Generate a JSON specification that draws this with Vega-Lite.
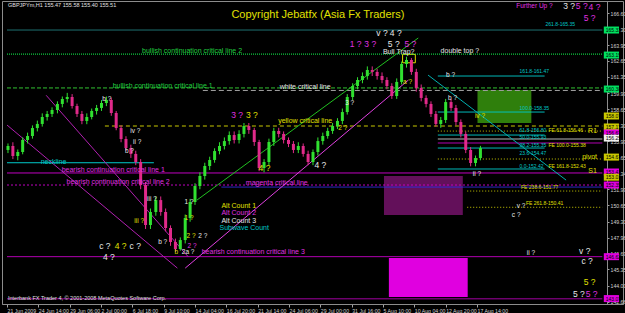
{
  "$schema": "https://vega.github.io/schema/vega-lite/v6.json",
  "width": 621,
  "height": 303,
  "autosize": {"type": "none"},
  "padding": {"left": 2, "top": 1, "right": 2, "bottom": 9},
  "background": "#000000",
  "config": {"view": {"stroke": "#8c8c8c", "strokeWidth": 1}, "font": "Liberation Sans", "text": {"font": "Liberation Sans"}},
  "resolve": {"scale": {"color": "independent", "strokeDash": "independent"}},
  "datasets": {
    "candles": [
      {"i":2,"o":155.26,"c":155.59,"h":155.8,"l":155.0},
      {"i":12,"o":155.59,"c":154.76,"h":155.9,"l":154.5},
      {"i":22,"o":154.76,"c":155.09,"h":155.3,"l":154.4},
      {"i":32,"o":155.09,"c":156.09,"h":156.3,"l":154.9},
      {"i":42,"o":156.09,"c":156.42,"h":156.7,"l":155.8},
      {"i":52,"o":156.42,"c":157.08,"h":157.3,"l":156.2},
      {"i":62,"o":157.08,"c":157.42,"h":157.7,"l":156.8},
      {"i":72,"o":157.42,"c":158.0,"h":158.3,"l":157.2},
      {"i":82,"o":158.0,"c":158.25,"h":158.5,"l":157.7},
      {"i":92,"o":158.25,"c":158.58,"h":158.8,"l":158.0},
      {"i":103,"o":158.58,"c":159.08,"h":159.3,"l":158.3},
      {"i":113,"o":159.08,"c":159.49,"h":159.7,"l":158.8},
      {"i":123,"o":159.49,"c":159.66,"h":160.0,"l":159.2},
      {"i":133,"o":159.66,"c":158.91,"h":159.9,"l":158.7},
      {"i":143,"o":158.91,"c":158.25,"h":159.1,"l":158.0},
      {"i":153,"o":158.25,"c":157.67,"h":158.5,"l":157.4},
      {"i":163,"o":157.67,"c":158.0,"h":158.3,"l":157.4},
      {"i":173,"o":158.0,"c":158.5,"h":158.7,"l":157.8},
      {"i":183,"o":158.5,"c":158.75,"h":159.0,"l":158.2},
      {"i":193,"o":158.75,"c":159.16,"h":159.4,"l":158.5},
      {"i":203,"o":159.16,"c":159.41,"h":159.7,"l":158.9},
      {"i":213,"o":159.41,"c":158.33,"h":159.6,"l":158.1},
      {"i":223,"o":158.33,"c":157.08,"h":158.5,"l":156.9},
      {"i":233,"o":157.08,"c":156.17,"h":157.3,"l":155.9},
      {"i":243,"o":156.17,"c":155.42,"h":156.4,"l":155.2},
      {"i":253,"o":155.42,"c":154.93,"h":155.7,"l":154.6},
      {"i":263,"o":154.93,"c":154.26,"h":155.2,"l":154.0},
      {"i":273,"o":154.26,"c":152.35,"h":154.5,"l":152.0},
      {"i":283,"o":152.35,"c":149.03,"h":152.6,"l":148.7},
      {"i":293,"o":149.03,"c":150.11,"h":150.4,"l":148.7},
      {"i":304,"o":150.11,"c":151.1,"h":151.4,"l":149.8},
      {"i":314,"o":151.1,"c":150.11,"h":151.4,"l":149.8},
      {"i":324,"o":150.11,"c":148.78,"h":150.4,"l":148.5},
      {"i":334,"o":148.78,"c":147.62,"h":149.0,"l":147.3},
      {"i":344,"o":147.62,"c":147.03,"h":147.9,"l":146.8},
      {"i":354,"o":147.03,"c":147.78,"h":148.0,"l":146.9},
      {"i":364,"o":147.78,"c":149.61,"h":149.9,"l":147.5},
      {"i":374,"o":149.61,"c":150.94,"h":151.2,"l":149.3},
      {"i":384,"o":150.94,"c":152.27,"h":152.5,"l":150.7},
      {"i":394,"o":152.27,"c":153.1,"h":153.4,"l":152.0},
      {"i":404,"o":153.1,"c":153.93,"h":154.2,"l":152.8},
      {"i":414,"o":153.93,"c":154.43,"h":154.7,"l":153.6},
      {"i":424,"o":154.43,"c":155.17,"h":155.4,"l":154.2},
      {"i":434,"o":155.17,"c":155.59,"h":155.9,"l":154.9},
      {"i":444,"o":155.59,"c":156.0,"h":156.3,"l":155.3},
      {"i":454,"o":156.0,"c":156.5,"h":156.8,"l":155.7},
      {"i":464,"o":156.5,"c":156.09,"h":156.8,"l":155.8},
      {"i":474,"o":156.09,"c":156.59,"h":156.9,"l":155.8},
      {"i":484,"o":156.59,"c":157.25,"h":157.5,"l":156.3},
      {"i":494,"o":157.25,"c":156.92,"h":157.5,"l":156.6},
      {"i":505,"o":156.92,"c":155.92,"h":157.1,"l":155.6},
      {"i":515,"o":155.92,"c":153.76,"h":156.1,"l":153.5},
      {"i":525,"o":153.76,"c":154.26,"h":154.5,"l":153.4},
      {"i":535,"o":154.26,"c":155.92,"h":156.2,"l":154.0},
      {"i":545,"o":155.92,"c":156.84,"h":157.1,"l":155.6},
      {"i":555,"o":156.84,"c":156.59,"h":157.1,"l":156.3},
      {"i":565,"o":156.59,"c":156.09,"h":156.8,"l":155.8},
      {"i":575,"o":156.09,"c":155.76,"h":156.3,"l":155.5},
      {"i":585,"o":155.76,"c":155.26,"h":156.0,"l":155.0},
      {"i":595,"o":155.26,"c":155.59,"h":155.9,"l":155.0},
      {"i":605,"o":155.59,"c":154.93,"h":155.8,"l":154.7},
      {"i":615,"o":154.93,"c":154.26,"h":155.2,"l":154.0},
      {"i":625,"o":154.26,"c":155.09,"h":155.3,"l":154.0},
      {"i":635,"o":155.09,"c":156.0,"h":156.3,"l":154.8},
      {"i":645,"o":156.0,"c":156.42,"h":156.7,"l":155.7},
      {"i":655,"o":156.42,"c":156.84,"h":157.1,"l":156.2},
      {"i":665,"o":156.84,"c":157.25,"h":157.5,"l":156.6},
      {"i":675,"o":157.25,"c":157.67,"h":157.9,"l":157.0},
      {"i":685,"o":157.67,"c":158.41,"h":158.7,"l":157.4},
      {"i":695,"o":158.41,"c":159.66,"h":159.9,"l":158.2},
      {"i":706,"o":159.66,"c":160.57,"h":160.8,"l":159.4},
      {"i":716,"o":160.57,"c":161.07,"h":161.3,"l":160.3},
      {"i":726,"o":161.07,"c":161.4,"h":161.7,"l":160.8},
      {"i":736,"o":161.4,"c":161.9,"h":162.2,"l":161.1},
      {"i":746,"o":161.9,"c":161.74,"h":162.2,"l":161.4},
      {"i":756,"o":161.74,"c":161.4,"h":162.0,"l":161.1},
      {"i":766,"o":161.4,"c":161.07,"h":161.7,"l":160.8},
      {"i":776,"o":161.07,"c":160.57,"h":161.3,"l":160.3},
      {"i":786,"o":160.57,"c":159.74,"h":160.8,"l":159.5},
      {"i":796,"o":159.74,"c":160.91,"h":161.2,"l":159.5},
      {"i":806,"o":160.91,"c":162.4,"h":162.6,"l":160.7},
      {"i":816,"o":162.4,"c":162.73,"h":163.0,"l":162.1},
      {"i":826,"o":162.73,"c":161.74,"h":162.9,"l":161.5},
      {"i":836,"o":161.74,"c":160.41,"h":162.0,"l":160.1},
      {"i":846,"o":160.41,"c":159.58,"h":160.7,"l":159.3},
      {"i":856,"o":159.58,"c":159.08,"h":159.8,"l":158.8},
      {"i":866,"o":159.08,"c":158.25,"h":159.3,"l":158.0},
      {"i":876,"o":158.25,"c":157.42,"h":158.5,"l":157.2},
      {"i":886,"o":157.42,"c":157.75,"h":158.0,"l":157.1},
      {"i":896,"o":157.75,"c":159.24,"h":159.5,"l":157.5},
      {"i":907,"o":159.24,"c":158.75,"h":159.5,"l":158.5},
      {"i":917,"o":158.75,"c":157.58,"h":159.0,"l":157.3},
      {"i":927,"o":157.58,"c":156.59,"h":157.8,"l":156.3},
      {"i":937,"o":156.59,"c":155.26,"h":156.8,"l":155.0},
      {"i":947,"o":155.26,"c":154.18,"h":155.5,"l":153.9},
      {"i":957,"o":154.18,"c":154.59,"h":154.8,"l":153.9},
      {"i":967,"o":154.59,"c":155.42,"h":155.6,"l":154.4}
    ],
    "zones": [
      {"zone":"target up","i":961,"i2":1071,"p":160.24,"p2":157.5},
      {"zone":"target down 1","i":770,"i2":931,"p":153.09,"p2":149.86},
      {"zone":"target down 2","i":780,"i2":941,"p":146.28,"p2":143.05}
    ],
    "traps": [
      {"zone":"bull trap","i":808,"i2":834,"p":163.2,"p2":162.5}
    ],
    "levels": [
      {"line":"teal","i":0,"i2":1216,"p":165.22},
      {"line":"bullish 2","i":0,"i2":1216,"p":163.22},
      {"line":"bullish 1","i":0,"i2":1216,"p":160.41},
      {"line":"white","i":400,"i2":1216,"p":160.2},
      {"line":"yellow","i":200,"i2":1216,"p":157.25},
      {"line":"pivot","i":880,"i2":1216,"p":156.83},
      {"line":"fib","i":880,"i2":1098,"p":161.4},
      {"line":"fib","i":880,"i2":1098,"p":158.41},
      {"line":"fib","i":880,"i2":1098,"p":156.5},
      {"line":"fib","i":880,"i2":1098,"p":155.42},
      {"line":"fib","i":880,"i2":1098,"p":153.68},
      {"line":"res","i":880,"i2":1216,"p":155.84},
      {"line":"white solid","i":880,"i2":1216,"p":156.17},
      {"line":"pivot","i":880,"i2":1216,"p":154.51},
      {"line":"res","i":0,"i2":1216,"p":153.35},
      {"line":"bearish 2","i":0,"i2":1216,"p":152.35},
      {"line":"magenta critical","i":438,"i2":1216,"p":152.18},
      {"line":"fe","i":940,"i2":1216,"p":151.85},
      {"line":"fe","i":940,"i2":1216,"p":150.5},
      {"line":"neckline","i":0,"i2":300,"p":154.2},
      {"line":"bearish 3","i":0,"i2":1216,"p":146.4},
      {"line":"bottom","i":0,"i2":1216,"p":142.9}
    ],
    "trends": [
      {"line":"green","i":388,"p":151.1,"i2":840,"p2":164.56},
      {"line":"pink","i":364,"p":145.45,"i2":820,"p2":161.07},
      {"line":"magenta","i":0,"p":157.33,"i2":348,"p2":145.45},
      {"line":"magenta","i":80,"p":159.8,"i2":370,"p2":146.4},
      {"line":"cyan","i":860,"p":161.48,"i2":1142,"p2":152.76}
    ],
    "notes": [
      {"t":"bullish continuation critical line 2","kind":"green","i":378,"p":163.48},
      {"t":"bullish continuation critical line 1","kind":"green","i":318,"p":160.57},
      {"t":"white critical line","kind":"white","i":609,"p":160.49},
      {"t":"yellow critical line","kind":"yellow","i":609,"p":157.66},
      {"t":"neckline","kind":"cyan","i":95,"p":154.25},
      {"t":"bearish continuation critical line 1","kind":"magenta","i":217,"p":153.59},
      {"t":"bearish continuation critical line 2","kind":"magenta","i":227,"p":152.6},
      {"t":"magenta critical line","kind":"magenta","i":551,"p":152.55},
      {"t":"bearish continuation critical line 3","kind":"magenta","i":503,"p":146.78},
      {"t":"Bull Trap?","kind":"white","i":800,"p":163.4},
      {"t":"double top ?","kind":"white","i":925,"p":163.48},
      {"t":"R1","kind":"yellow","i":1196,"p":156.83},
      {"t":"pivot","kind":"yellow","i":1190,"p":154.67},
      {"t":"S1","kind":"yellow","i":1196,"p":153.51}
    ],
    "legend": [
      {"t":"Alt Count 1","kind":"yellow","i":438,"p":150.6},
      {"t":"Alt Count 2","kind":"magenta","i":438,"p":150.02},
      {"t":"Alt Count 3","kind":"white","i":438,"p":149.36},
      {"t":"Subwave Count","kind":"cyan","i":434,"p":148.78}
    ],
    "headnotes": [
      {"t":"Further Up ?","kind":"magenta","i":1040,"p":167.22}
    ],
    "fibs": [
      {"t":"161.8-161.47","kind":"cyan","i":1047,"p":161.57},
      {"t":"100.0-158.35","kind":"cyan","i":1047,"p":158.5},
      {"t":"61.8-156.80","kind":"cyan","i":1047,"p":156.67},
      {"t":"FE 61.8-156.46","kind":"yellow","i":1106,"p":156.67},
      {"t":"50.0-155.93","kind":"cyan","i":1047,"p":156.08},
      {"t":"38.2-155.35","kind":"cyan","i":1047,"p":155.42},
      {"t":"FE 100.0-155.38","kind":"yellow","i":1106,"p":155.42},
      {"t":"23.6-154.47","kind":"cyan","i":1047,"p":154.76},
      {"t":"0.0-152.42","kind":"cyan","i":1047,"p":153.68},
      {"t":"FE 161.8-152.43","kind":"yellow","i":1106,"p":153.68},
      {"t":"FE 238.6-151.77","kind":"yellow","i":1050,"p":151.93},
      {"t":"FE 261.8-150.41","kind":"yellow","i":1060,"p":150.58},
      {"t":"261.8-165.35","kind":"cyan","i":1100,"p":165.45}
    ],
    "waves": [
      {"t":"v ?","kind":"white","i":766,"p":164.95},
      {"t":"4 ?","kind":"white","i":794,"p":165.0},
      {"t":"1 ?","kind":"magenta","i":712,"p":164.05},
      {"t":"3 ?","kind":"magenta","i":742,"p":164.05},
      {"t":"5 ?","kind":"white","i":790,"p":164.05},
      {"t":"5 ?","kind":"magenta","i":824,"p":164.05},
      {"t":"3 ?","kind":"magenta","i":470,"p":158.2},
      {"t":"3 ?","kind":"yellow","i":500,"p":158.2},
      {"t":"4 ?","kind":"yellow","i":526,"p":153.75},
      {"t":"4 ?","kind":"white","i":640,"p":154.0},
      {"t":"c ?","kind":"white","i":200,"p":147.3},
      {"t":"4 ?","kind":"white","i":208,"p":146.35},
      {"t":"4 ?","kind":"yellow","i":232,"p":147.3},
      {"t":"c ?","kind":"white","i":262,"p":147.3},
      {"t":"5 ?","kind":"yellow","i":1190,"p":144.3},
      {"t":"5 ?","kind":"white","i":1168,"p":143.3},
      {"t":"5 ?","kind":"magenta","i":1194,"p":143.3},
      {"t":"v ?","kind":"white","i":1180,"p":146.9},
      {"t":"c ?","kind":"white","i":1185,"p":146.0},
      {"t":"3 ?","kind":"white","i":1148,"p":167.2},
      {"t":"5 ?","kind":"magenta","i":1174,"p":167.2},
      {"t":"4 ?","kind":"magenta","i":1200,"p":167.15},
      {"t":"5 ?","kind":"magenta","i":1190,"p":166.2}
    ],
    "subwaves": [
      {"t":"b ?","kind":"white","i":204,"p":159.5},
      {"t":"iv ?","kind":"white","i":262,"p":156.8},
      {"t":"ii ?","kind":"white","i":266,"p":155.9},
      {"t":"b ?","kind":"white","i":250,"p":155.2},
      {"t":"iii ?","kind":"white","i":296,"p":151.2},
      {"t":"iii ?","kind":"yellow","i":270,"p":149.4},
      {"t":"b ?","kind":"white","i":318,"p":147.6},
      {"t":"1 ?","kind":"white","i":372,"p":150.9},
      {"t":"1 ?","kind":"yellow","i":372,"p":149.6},
      {"t":"2 ?","kind":"yellow","i":376,"p":148.1},
      {"t":"2 ?","kind":"white","i":400,"p":148.1},
      {"t":"2 ?","kind":"magenta","i":378,"p":147.3},
      {"t":"b","kind":"yellow","i":346,"p":146.8},
      {"t":"2a ?","kind":"white","i":370,"p":146.8},
      {"t":"2 ?","kind":"yellow","i":686,"p":157.1},
      {"t":"3 ?","kind":"white","i":700,"p":159.2},
      {"t":"a ?","kind":"yellow","i":818,"p":160.9},
      {"t":"b ?","kind":"white","i":906,"p":161.5},
      {"t":"b ?","kind":"white","i":910,"p":159.6},
      {"t":"iv ?","kind":"yellow","i":966,"p":158.1},
      {"t":"ii ?","kind":"white","i":960,"p":153.3},
      {"t":"v ?","kind":"white","i":1050,"p":150.6},
      {"t":"c ?","kind":"white","i":1040,"p":149.9},
      {"t":"ii ?","kind":"white","i":1070,"p":146.7}
    ],
    "marks": [
      {"t":"GBPJPYm,H1  155.47 155.58 155.40 155.51","i":2,"p":167.3},
      {"t":"Interbank FX Trader 4, © 2001-2008 MetaQuotes Software Corp.","i":2,"p":142.96}
    ],
    "title": [
      {"t":"Copyright Jebatfx (Asia Fx Traders)","i":635,"p":166.47}
    ],
    "prices": [
      {"t":"165.33","kind":"green","i":1219,"i2":1250,"p":165.22},
      {"t":"163.19","kind":"green","i":1219,"i2":1250,"p":163.14},
      {"t":"160.38","kind":"green","i":1219,"i2":1250,"p":160.32},
      {"t":"158.07","kind":"yellow","i":1219,"i2":1250,"p":158.08},
      {"t":"157.17","kind":"yellow","i":1219,"i2":1250,"p":157.17},
      {"t":"156.67","kind":"magenta","i":1219,"i2":1250,"p":156.67},
      {"t":"156.25","kind":"white","i":1219,"i2":1250,"p":156.25},
      {"t":"154.67","kind":"yellow","i":1219,"i2":1250,"p":154.67},
      {"t":"153.43","kind":"magenta","i":1219,"i2":1250,"p":153.43},
      {"t":"153.01","kind":"yellow","i":1219,"i2":1250,"p":153.0},
      {"t":"152.35","kind":"magenta","i":1219,"i2":1250,"p":152.35},
      {"t":"146.62","kind":"magenta","i":1219,"i2":1250,"p":146.4},
      {"t":"143.07","kind":"magenta","i":1219,"i2":1250,"p":142.92}
    ]
  },
  "encoding": {
    "x": {"field":"i","type":"quantitative","scale":{"domain":[0,1248],"nice":false,"zero":false},
      "axis":{"title":null,"grid":false,"values":[0,64,128,192,256,320,384,448,512,576,640,704,768,832,896,960],
        "labelExpr":"['21 Jun 2009','24 Jun 14:00','29 Jun 06:00','2 Jul 00:00','6 Jul 18:00','9 Jul 10:00','14 Jul 04:00','16 Jul 20:00','21 Jul 14:00','24 Jul 06:00','29 Jul 00:00','31 Jul 16:00','5 Aug 10:00','10 Aug 04:00','12 Aug 20:00','17 Aug 14:00'][round(datum.value/64)]",
        "labelAlign":"left","labelColor":"#d0d0d0","labelFontSize":5.2,"labelPadding":1,"tickColor":"#a0a0a0","tickSize":3,"domainColor":"#8c8c8c","labelFlush":false,"labelOverlap":false}},
    "y": {"field":"p","type":"quantitative","scale":{"domain":[142.47,167.63],"nice":false,"zero":false},
      "axis":{"orient":"right","offset":-16,"title":null,"grid":false,"values":[142.66,144.0,145.35,146.69,147.96,149.3,150.65,151.99,153.34,154.65,155.99,157.3,158.65,159.99,161.35,162.65,163.95,165.3,166.6],
        "format":".2f","labelColor":"#d0d0d0","labelFontSize":5.2,"labelPadding":1,"tickColor":"#a0a0a0","tickSize":2,"domainColor":"#8c8c8c","labelOverlap":false}}
  },
  "layer": [
    {"data":{"name":"zones"},"mark":{"type":"rect"},
      "encoding":{"x2":{"field":"i2"},"y2":{"field":"p2"},
        "color":{"field":"zone","type":"nominal","legend":null,"scale":{"domain":["target up","target down 1","target down 2"],"range":["#2f7f0c","#63105a","#e000e0"]}}}},
    {"data":{"name":"traps"},"mark":{"type":"rect","fill":null,"filled":false,"stroke":"#e0e000","strokeWidth":1},
      "encoding":{"x2":{"field":"i2"},"y2":{"field":"p2"}}},
    {"data":{"name":"levels"},"mark":{"type":"rule","strokeWidth":1},
      "encoding":{"x2":{"field":"i2"},
        "color":{"field":"line","type":"nominal","legend":null,"scale":{"domain":["teal","bullish 2","bullish 1","white","yellow","pivot","fib","res","white solid","bearish 2","magenta critical","fe","neckline","bearish 3","bottom"],
          "range":["#1e7070","#10ff50","#30c030","#a0a0a0","#c8c800","#c8c800","#00c8c8","#c000c0","#c8c8c8","#c000c0","#3030e0","#c8c800","#00c8c8","#b000b0","#a000a0"]}},
        "strokeDash":{"field":"line","type":"nominal","legend":null,"scale":{"domain":["teal","bullish 2","bullish 1","white","yellow","pivot","fib","res","white solid","bearish 2","magenta critical","fe","neckline","bearish 3","bottom"],
          "range":[[1,0],[1,1],[4,2],[5,3],[4,3],[1,2],[1,0],[1,0],[1,0],[2,2],[1,0],[1,2],[1,0],[1,0],[1,0]]}}}},
    {"data":{"name":"trends"},"mark":{"type":"rule","strokeWidth":1},
      "encoding":{"x2":{"field":"i2"},"y2":{"field":"p2"},
        "color":{"field":"line","type":"nominal","legend":null,"scale":{"domain":["green","pink","magenta","cyan"],"range":["#20c020","#e040e0","#b020b0","#00b0b0"]}}}},
    {"data":{"name":"candles"},"mark":{"type":"rule","strokeWidth":1},
      "encoding":{"y":{"field":"l","type":"quantitative","scale":{"domain":[142.47,167.63],"nice":false,"zero":false}},"y2":{"field":"h"},
        "color":{"condition":{"test":"datum.c >= datum.o","value":"#30e030"},"value":"#e02a8a"}}},
    {"data":{"name":"candles"},"mark":{"type":"bar","size":3},
      "encoding":{"y":{"field":"o","type":"quantitative","scale":{"domain":[142.47,167.63],"nice":false,"zero":false}},"y2":{"field":"c"},
        "color":{"condition":{"test":"datum.c >= datum.o","value":"#30e030"},"value":"#e02a8a"}}},
    {"data":{"name":"notes"},"mark":{"type":"text","fontSize":7,"align":"center","baseline":"middle"},
      "encoding":{"text":{"field":"t"},
        "color":{"field":"kind","type":"nominal","legend":null,"scale":{"domain":["white","yellow","magenta","cyan","green"],"range":["#e8e8e8","#e0e000","#e030e0","#00c8c8","#20d040"]}}}},
    {"data":{"name":"legend"},"mark":{"type":"text","fontSize":7,"align":"left","baseline":"middle"},
      "encoding":{"text":{"field":"t"},
        "color":{"field":"kind","type":"nominal","legend":null,"scale":{"domain":["white","yellow","magenta","cyan","green"],"range":["#e8e8e8","#e0e000","#e030e0","#00c8c8","#20d040"]}}}},
    {"data":{"name":"headnotes"},"mark":{"type":"text","fontSize":6.5,"align":"left","baseline":"middle","color":"#e030e0"},
      "encoding":{"text":{"field":"t"}}},
    {"data":{"name":"fibs"},"mark":{"type":"text","fontSize":5,"align":"left","baseline":"bottom"},
      "encoding":{"text":{"field":"t"},
        "color":{"field":"kind","type":"nominal","legend":null,"scale":{"domain":["white","yellow","magenta","cyan","green"],"range":["#e8e8e8","#e0e000","#e030e0","#00c8c8","#20d040"]}}}},
    {"data":{"name":"waves"},"mark":{"type":"text","fontSize":8.5,"align":"center","baseline":"middle"},
      "encoding":{"text":{"field":"t"},
        "color":{"field":"kind","type":"nominal","legend":null,"scale":{"domain":["white","yellow","magenta","cyan","green"],"range":["#e8e8e8","#e0e000","#e030e0","#00c8c8","#20d040"]}}}},
    {"data":{"name":"subwaves"},"mark":{"type":"text","fontSize":6.5,"align":"center","baseline":"middle"},
      "encoding":{"text":{"field":"t"},
        "color":{"field":"kind","type":"nominal","legend":null,"scale":{"domain":["white","yellow","magenta","cyan","green"],"range":["#e8e8e8","#e0e000","#e030e0","#00c8c8","#20d040"]}}}},
    {"data":{"name":"marks"},"mark":{"type":"text","fontSize":5.5,"align":"left","baseline":"middle","color":"#e0e0e0"},
      "encoding":{"text":{"field":"t"}}},
    {"data":{"name":"title"},"mark":{"type":"text","fontSize":11,"align":"center","baseline":"middle","color":"#e0e000"},
      "encoding":{"text":{"field":"t"}}},
    {"data":{"name":"prices"},"mark":{"type":"rect","yOffset":-3.5,"y2Offset":3.5},
      "encoding":{"x2":{"field":"i2"},"y2":{"field":"p"},
        "color":{"field":"kind","type":"nominal","legend":null,"scale":{"domain":["white","yellow","magenta","green"],"range":["#f0f0f0","#c8c800","#e000e0","#00e060"]}}}},
    {"data":{"name":"prices"},"mark":{"type":"text","fontSize":5,"align":"left","baseline":"middle","color":"#000000","dx":2},
      "encoding":{"text":{"field":"t"}}}
  ]
}
